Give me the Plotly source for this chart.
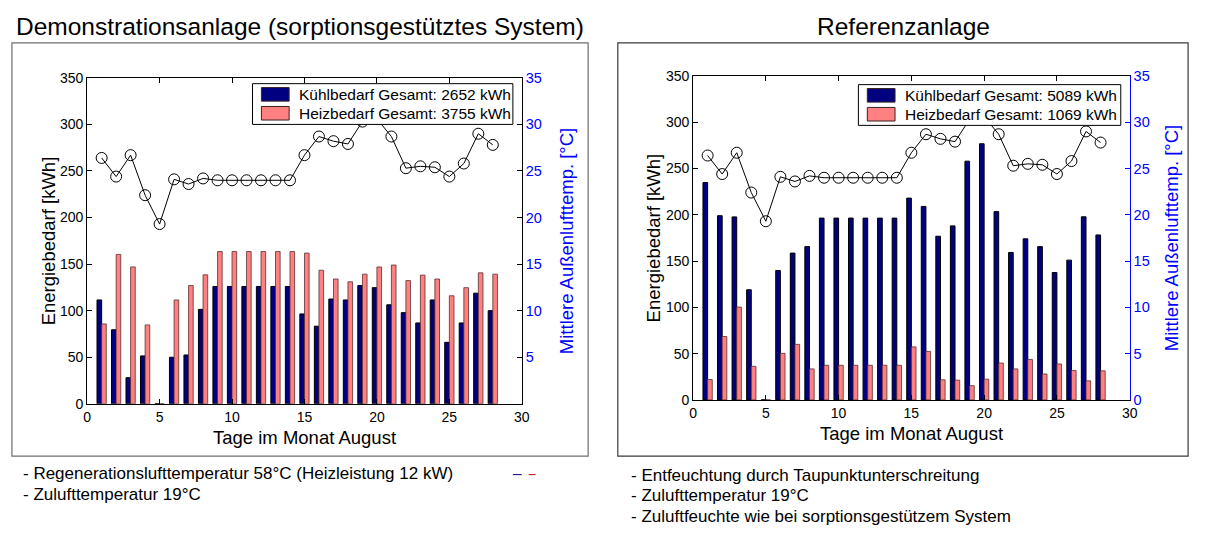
import plotly.graph_objects as go

# ---------------- data ----------------
days = list(range(1, 29))

temp_out = [26.4, 24.4, 26.7, 22.4, 19.3, 24.1, 23.6, 24.2, 24.0, 24.0, 24.0, 24.0, 24.0, 24.0,
            26.7, 28.7, 28.2, 27.9, 30.3, 30.6, 28.7, 25.3, 25.5, 25.4, 24.4, 25.8, 29.0, 27.8]

demo_cool = [111.5, 79.5, 28, 51.4, 0, 50, 52.4, 101.4, 126, 126, 126, 126, 126, 126,
             96.5, 83.3, 112.5, 111.5, 127, 124.7, 106.3, 97.9, 86.8, 111.5, 66, 86.8, 118.8, 100]
demo_heat = [85.8, 160.4, 147, 84.7, 0, 111.5, 127, 138.5, 163.5, 163.5, 163.5, 163.5, 163.5, 163.5,
             161.8, 143.4, 134, 131, 139.2, 146.9, 149, 132.3, 138.2, 134, 116, 124.7, 140.6, 139.2]

ref_cool = [234.8, 199, 197.7, 119, 0, 139.8, 158.6, 165.6, 196.4, 196.4, 196.4, 196.4, 196.4, 196.4,
            218, 209, 176.8, 188, 257.9, 276.7, 203.4, 159.3, 174, 165.6, 137.6, 151, 197.8, 178.2]
ref_heat = [22, 68.5, 100.3, 36.3, 0, 50.3, 60, 33.5, 37.4, 37.4, 37.4, 37.4, 37.4, 37.4,
            57.3, 52.4, 21.7, 21.4, 15.4, 22.4, 39.8, 33.5, 43.7, 28, 38.8, 31.8, 20.6, 31.4]

titles = ["Demonstrationsanlage (sorptionsgestütztes System)", "Referenzanlage"]
legend_demo = ["Kühlbedarf Gesamt: 2652 kWh", "Heizbedarf Gesamt: 3755 kWh"]
legend_ref = ["Kühlbedarf Gesamt: 5089 kWh", "Heizbedarf Gesamt: 1069 kWh"]
notes_demo = ["- Regenerationslufttemperatur 58°C (Heizleistung 12 kW)", "- Zulufttemperatur 19°C"]
notes_ref = ["- Entfeuchtung durch Taupunktunterschreitung", "- Zulufttemperatur 19°C",
             "- Zuluftfeuchte wie bei sorptionsgestützem System"]
xticks = [0, 5, 10, 15, 20, 25, 30]
yticks = [0, 50, 100, 150, 200, 250, 300, 350]
y2ticks = [0, 5, 10, 15, 20, 25, 30, 35]

# ---------------- layout helpers ----------------
W, H = 1205, 535
FONT = "Arial, Liberation Sans, sans-serif"
NAVY = "#000080"
PINK = "#FF8080"
BLUE = "#0000FF"


def px(x):
    return x / W


def py(y):
    return 1 - y / H


fig = go.Figure()

BW = 0.32


def add_panel(cool, heat, xa, ya, ya2):
    fig.add_trace(go.Bar(x=days, y=cool, width=BW, offset=-BW, marker=dict(color=NAVY, line=dict(color="black", width=1)),
                         xaxis=xa, yaxis=ya, showlegend=False))
    fig.add_trace(go.Bar(x=days, y=heat, width=BW, offset=0, marker=dict(color=PINK, line=dict(color="#5a3030", width=0.8)),
                         xaxis=xa, yaxis=ya, showlegend=False))
    fig.add_trace(go.Scatter(x=days, y=temp_out, mode="lines+markers",
                             line=dict(color="black", width=1),
                             marker=dict(symbol="circle-open", size=11, color="black", line=dict(width=1)),
                             xaxis=xa, yaxis=ya2, showlegend=False))


add_panel(demo_cool, demo_heat, "x", "y", "y2")
add_panel(ref_cool, ref_heat, "x2", "y3", "y4")

tickfont = dict(family=FONT, size=14, color="black")
bluefont = dict(family=FONT, size=14.5, color=BLUE)

panels = [
    dict(x0=84, x1=523, y0=72, y1=408, xa="xaxis", ya="yaxis", ya2="yaxis2", xname="x", yname="y",
         rcol="black", r0=""),
    dict(x0=696, x1=1137, y0=70, y1=404, xa="xaxis2", ya="yaxis3", ya2="yaxis4", xname="x2", yname="y3",
         rcol=BLUE, r0="0"),
]

layout_axes = {}
for p in panels:
    layout_axes[p["xa"]] = dict(domain=[px(p["x0"]), px(p["x1"])], range=[0, 30], tickvals=xticks,
                                ticks="inside", ticklen=5, tickcolor="black", showline=True, linecolor="black",
                                linewidth=1, mirror="ticks", showgrid=False, zeroline=False, tickfont=tickfont,
                                anchor=p["yname"])
    layout_axes[p["ya"]] = dict(domain=[py(p["y1"]), py(p["y0"])], range=[0, 350], tickvals=yticks,
                                ticks="inside", ticklen=5, tickcolor="black", showline=True, linecolor="black",
                                linewidth=1, showgrid=False, zeroline=False, tickfont=tickfont,
                                anchor=p["xname"])
    ticktext2 = [p["r0"]] + [str(v) for v in y2ticks[1:]]
    layout_axes[p["ya2"]] = dict(overlaying=p["yname"], side="right", range=[0, 35], tickvals=y2ticks,
                                 ticktext=ticktext2, ticks="inside", ticklen=5, tickcolor=p["rcol"],
                                 showline=True, linecolor=p["rcol"], linewidth=1, showgrid=False,
                                 zeroline=False, tickfont=bluefont, anchor=p["xname"])

fig.update_layout(**layout_axes)

shapes = []
annotations = []

# outer frames
shapes.append(dict(type="rect", xref="paper", yref="paper", x0=px(8), x1=px(590), y0=py(462), y1=py(36),
                   line=dict(color="#6e6e6e", width=1.2)))
shapes.append(dict(type="rect", xref="paper", yref="paper", x0=px(620), x1=px(1196), y0=py(462), y1=py(36),
                   line=dict(color="#3a3a3a", width=1.2)))

# titles
annotations.append(dict(text=titles[0], x=px(299), y=py(19), xref="paper", yref="paper", showarrow=False,
                        xanchor="center", yanchor="middle", font=dict(family=FONT, size=24.5, color="black")))
annotations.append(dict(text=titles[1], x=px(909), y=py(19), xref="paper", yref="paper", showarrow=False,
                        xanchor="center", yanchor="middle", font=dict(family=FONT, size=24.5, color="black")))

# axis titles
LBL = 18.5
for p, ytx, y2tx in [(panels[0], 45, 568), (panels[1], 656, 1180)]:
    annotations.append(dict(text="Tage im Monat August", x=px((p["x0"] + p["x1"]) / 2), y=py(p["y1"] + 35),
                            xref="paper", yref="paper", showarrow=False, xanchor="center", yanchor="middle",
                            font=dict(family=FONT, size=LBL, color="black")))
    annotations.append(dict(text="Energiebedarf [kWh]", x=px(ytx), y=py((p["y0"] + p["y1"]) / 2),
                            xref="paper", yref="paper", showarrow=False, textangle=-90,
                            xanchor="center", yanchor="middle", font=dict(family=FONT, size=LBL, color="black")))
    annotations.append(dict(text="Mittlere Außenlufttemp. [°C]", x=px(y2tx), y=py((p["y0"] + p["y1"]) / 2),
                            xref="paper", yref="paper", showarrow=False, textangle=-90,
                            xanchor="center", yanchor="middle", font=dict(family=FONT, size=LBL, color=BLUE)))

# legends (drawn as boxes)
for (lx0, lx1, ly0, ly1, texts) in [(251, 514, 78, 120, legend_demo), (863, 1128, 79, 121, legend_ref)]:
    shapes.append(dict(type="rect", xref="paper", yref="paper", x0=px(lx0), x1=px(lx1), y0=py(ly1), y1=py(ly0),
                       fillcolor="white", line=dict(color="black", width=1), layer="above"))
    for i, (t, c) in enumerate(zip(texts, [NAVY, PINK])):
        yc = ly0 + 11 + i * 19.5
        shapes.append(dict(type="rect", xref="paper", yref="paper", x0=px(lx0 + 9), x1=px(lx0 + 37),
                           y0=py(yc + 7), y1=py(yc - 7), fillcolor=c,
                           line=dict(color="#3a2020", width=1), layer="above"))
        annotations.append(dict(text=t, x=px(lx0 + 45), y=py(yc), xref="paper", yref="paper", showarrow=False,
                                xanchor="left", yanchor="middle", font=dict(family=FONT, size=15.5, color="black")))

# notes below
for i, t in enumerate(notes_demo):
    annotations.append(dict(text=t, x=px(17), y=py(480 + i * 21), xref="paper", yref="paper", showarrow=False,
                            xanchor="left", yanchor="middle", font=dict(family=FONT, size=17, color="black")))
for i, t in enumerate(notes_ref):
    annotations.append(dict(text=t, x=px(631), y=py(482 + i * 21), xref="paper", yref="paper", showarrow=False,
                            xanchor="left", yanchor="middle", font=dict(family=FONT, size=17, color="black")))

# small stray dashes next to the first note
shapes.append(dict(type="line", xref="paper", yref="paper", x0=px(514), x1=px(523), y0=py(481), y1=py(481),
                   line=dict(color=NAVY, width=1, dash="dash")))
shapes.append(dict(type="line", xref="paper", yref="paper", x0=px(530), x1=px(537), y0=py(481), y1=py(481),
                   line=dict(color="#cc0000", width=1)))

fig.update_layout(width=W, height=H, autosize=False, margin=dict(l=0, r=0, t=0, b=0),
                  paper_bgcolor="white", plot_bgcolor="white", barmode="overlay",
                  shapes=shapes, annotations=annotations, font=dict(family=FONT))

fig.write_html("out.html")
